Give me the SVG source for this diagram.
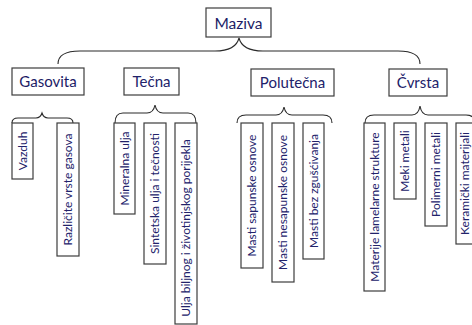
<svg xmlns="http://www.w3.org/2000/svg" width="472" height="325" viewBox="0 0 472 325">
<style>
.box{fill:#fff;stroke:#3c3c3c;stroke-width:1.2}
.cat{font-family:Lato,"Open Sans",sans-serif;font-size:15px;fill:#22226a;text-anchor:middle}
.leaf{font-family:Lato,"Open Sans",sans-serif;font-size:12px;fill:#22226a;text-anchor:middle}
.con{fill:none;stroke:#2a2a2a;stroke-width:1.1}
</style>
<rect width="472" height="325" fill="#fff"/>
<g id="connectors">
<path class="con" d="M58,64 C58,55 65,51 80,51 L215,51 C230,51 237,46 239,38 C241,46 248,51 263,51 L398,51 C413,51 420,55 420,64"/>
<path class="con" d="M12,123 C12,120 14,118 18,118 L36,118 C40,118 41,116 42,113 C43,116 44,118 48,118 L67,118 C71,118 73,120 73,123"/>
<path class="con" d="M115,123 C115,117 117,113 123,113 L147,113 C152,113 154,110 155,105 C156,110 158,113 163,113 L188,113 C194,113 196,117 196,123"/>
<path class="con" d="M237,123 C237,118 240,115 246,115 L276,115 C281,115 283,112 284,107 C285,112 287,115 292,115 L323,115 C329,115 332,118 332,123"/>
<path class="con" d="M365,123 C365,118 368,115 374,115 L412,115 C417,115 419,112 420,106 C421,112 423,115 428,115 L466,115 C472,115 475,118 475,123"/>
</g>
<g id="maziva"><rect class="box" x="206" y="8" width="65" height="29"/><text class="cat" x="238.5" y="29" style="font-size:15.5px;fill:#1c1c66">Maziva</text></g>
<g id="gasovita"><rect class="box" x="12" y="68" width="72" height="27"/><text class="cat" x="48" y="87" style="fill:#1c1c66">Gasovita</text></g>
<g id="tecna"><rect class="box" x="124" y="68" width="55" height="27"/><text class="cat" x="151.5" y="87">Tečna</text></g>
<g id="polutecna"><rect class="box" x="251" y="69" width="83" height="27"/><text class="cat" x="292.5" y="88">Polutečna</text></g>
<g id="cvrsta"><rect class="box" x="389" y="69" width="58" height="27"/><text class="cat" x="418" y="88">Čvrsta</text></g>
<g id="vazduh"><rect class="box" x="12" y="123" width="21" height="56"/><text class="leaf" transform="translate(27,151) rotate(-90)">Vazduh</text></g>
<g id="razlicite"><rect class="box" x="57" y="123" width="22" height="133"/><text class="leaf" transform="translate(72,189.5) rotate(-90)">Različite vrste gasova</text></g>
<g id="mineralna"><rect class="box" x="114" y="123" width="21" height="91"/><text class="leaf" transform="translate(129,168.5) rotate(-90)">Mineralna ulja</text></g>
<g id="sintetska"><rect class="box" x="144" y="123" width="22" height="141"/><text class="leaf" transform="translate(159,193.5) rotate(-90)">Sintetska ulja i tečnosti</text></g>
<g id="ulja"><rect class="box" x="175" y="123" width="22" height="201"/><text class="leaf" transform="translate(190,228) rotate(-90)">Ulja biljnog i životinjskog porijekla</text></g>
<g id="sapunske"><rect class="box" x="241" y="123" width="22" height="145"/><text class="leaf" transform="translate(256,195.5) rotate(-90)">Masti sapunske osnove</text></g>
<g id="nesapunske"><rect class="box" x="272" y="123" width="22" height="159"/><text class="leaf" transform="translate(287,202.5) rotate(-90)">Masti nesapunske osnove</text></g>
<g id="bez"><rect class="box" x="303" y="123" width="21" height="136"/><text class="leaf" transform="translate(318,191) rotate(-90)">Masti bez zgušćivanja</text></g>
<g id="lamelarne"><rect class="box" x="364" y="123" width="21" height="168"/><text class="leaf" transform="translate(379,207) rotate(-90)">Materije lamelarne strukture</text></g>
<g id="meki"><rect class="box" x="394" y="123" width="22" height="76"/><text class="leaf" transform="translate(409,161) rotate(-90)">Meki metali</text></g>
<g id="polimerni"><rect class="box" x="425" y="123" width="22" height="103"/><text class="leaf" transform="translate(440,174.5) rotate(-90)">Polimerni metali</text></g>
<g id="keramicki"><rect class="box" x="456" y="123" width="22" height="121"/><text class="leaf" transform="translate(468.5,183.5) rotate(-90)">Keramički materijali</text></g>
</svg>
